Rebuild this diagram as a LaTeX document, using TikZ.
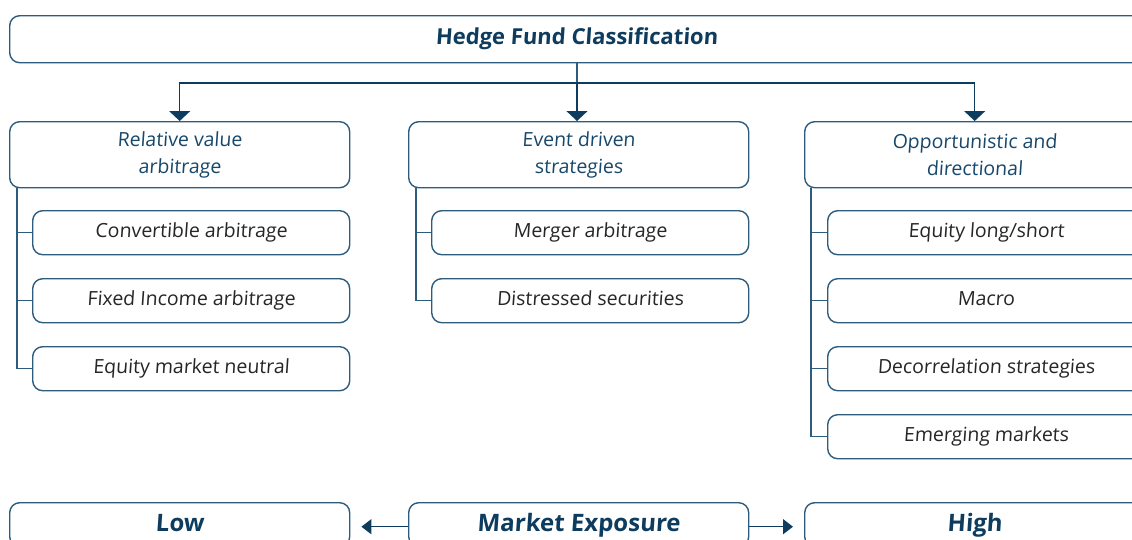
\documentclass[tikz,border=0pt]{standalone}
\usepackage{fontspec}
\setmainfont{Open Sans}[FakeSlant=0.07]
\usetikzlibrary{arrows.meta,positioning}
\definecolor{edge}{HTML}{2E5C7C}
\definecolor{headblue}{HTML}{17486C}
\definecolor{titleblue}{HTML}{0D3C5F}
\definecolor{itemgray}{HTML}{262626}
\tikzset{
  box/.style={draw=edge, line width=1.4pt, rounded corners=10pt, anchor=north west,
    inner sep=0pt, align=center, fill=white},
  titlebox/.style={box, minimum width=1134pt, minimum height=47pt,
    text height=16pt, text depth=5pt,
    font=\fontsize{22}{24}\selectfont\bfseries, text=titleblue},
  groupbox/.style={box, minimum width=340pt, minimum height=66pt,
    font=\fontsize{19.5}{27}\selectfont, text=headblue},
  itembox/.style={box, minimum width=317pt, minimum height=44pt,
    text height=14pt, text depth=4pt,
    font=\fontsize{19.5}{21}\selectfont, text=itemgray},
  scalebox/.style={box, minimum width=340pt, minimum height=44pt,
    text height=18pt, text depth=5pt,
    font=\fontsize{24}{26}\selectfont\bfseries, text=titleblue},
  wire/.style={draw=edge, line width=1.4pt},
  downarrow/.style={wire, -{Triangle[width=21pt,length=10pt]}, color=titleblue},
  sidearrow/.style={wire, -{Triangle[width=15pt,length=10pt]}, color=titleblue, shorten >=11pt},
}
\begin{document}
\begin{tikzpicture}[x=1pt,y=-1pt]
\useasboundingbox (0,0) rectangle (1132,539);
\clip (0,0) rectangle (1132,539);

% root of the classification
\node[titlebox] (root) at (9,15) {Hedge Fund Classification};

% the three strategy families
\node[groupbox] (rv) at (9,121) {Relative value\\arbitrage};
\node[groupbox] (ev) at (408,121) {Event driven\\strategies};
\node[groupbox] (op) at (804,121) {Opportunistic and\\directional};

% distribution bus
\coordinate (bus) at (577,83);
\draw[wire] (root.south -| bus) -- (bus);
\draw[downarrow] (bus) -| (rv.north);
\draw[downarrow] (bus) -- (bus |- ev.north);
\draw[downarrow] (bus) -| (op.north);

% relative value strategies
\node[itembox] (rv1) at (32,210) {Convertible arbitrage};
\node[itembox] (rv2) at (32,278) {Fixed Income arbitrage};
\node[itembox] (rv3) at (32,346) {Equity market neutral};

% event driven strategies
\node[itembox] (ev1) at (431,210) {Merger arbitrage};
\node[itembox] (ev2) at (431,278) {Distressed securities};

% opportunistic strategies
\node[itembox] (op1) at (827,210) {Equity long/short};
\node[itembox] (op2) at (827,278) {Macro};
\node[itembox] (op3) at (827,346) {Decorrelation strategies};
\node[itembox] (op4) at (827,414) {Emerging markets};

% tree lines
\coordinate (rvt) at ([xshift=8pt]rv.south west);
\draw[wire] (rvt) |- (rv3.west);
\draw[wire] (rv1.west) -- (rv1.west -| rvt);
\draw[wire] (rv2.west) -- (rv2.west -| rvt);

\coordinate (evt) at ([xshift=8pt]ev.south west);
\draw[wire] (evt) |- (ev2.west);
\draw[wire] (ev1.west) -- (ev1.west -| evt);

\coordinate (opt) at ([xshift=7pt]op.south west);
\draw[wire] (opt) |- (op4.west);
\draw[wire] (op1.west) -- (op1.west -| opt);
\draw[wire] (op2.west) -- (op2.west -| opt);
\draw[wire] (op3.west) -- (op3.west -| opt);

% market exposure scale
\node[scalebox] (low) at (9,502) {Low};
\node[scalebox] (mkt) at (408,502) {Market Exposure};
\node[scalebox] (high) at (804,502) {High};
\draw[sidearrow] ([yshift=-2pt]mkt.west) -- ([yshift=-2pt]mkt.west -| low.east);
\draw[sidearrow] ([yshift=-2pt]mkt.east) -- ([yshift=-2pt]mkt.east -| high.west);
\end{tikzpicture}
\end{document}
